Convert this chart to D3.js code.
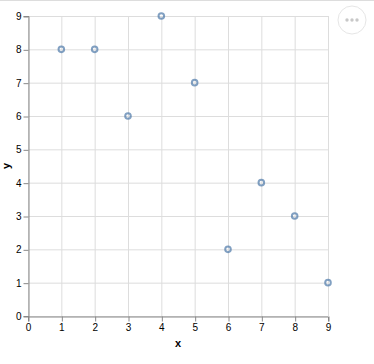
<!DOCTYPE html>
<html>
<head>
<meta charset="utf-8">
<script src="https://cdn.jsdelivr.net/npm/d3@7"></script>
<style>
  body { margin: 0; background: #fff; font-family: "Liberation Sans", Arial, sans-serif; }
</style>
</head>
<body>
<div id="chart"></div>
<script>
var xValues = [1, 2, 3, 4, 5, 6, 7, 8, 9];
var yValues = [8, 8, 6, 9, 7, 2, 4, 3, 1];
var xTicks = [0, 1, 2, 3, 4, 5, 6, 7, 8, 9];
var yTicks = [0, 1, 2, 3, 4, 5, 6, 7, 8, 9];

var width = 374,
    height = 364;
var margin = {left: 28, top: 16}; // plot origin
var plotW = 300, plotH = 300;

var svg = d3.select("#chart").append("svg")
    .attr("width", width)
    .attr("height", height);

// container border line at top
svg.append("line")
    .attr("x1", 0).attr("x2", width)
    .attr("y1", 0.5).attr("y2", 0.5)
    .attr("stroke", "#ddd");

var g = svg.append("g")
    .attr("transform", "translate(" + margin.left + "," + margin.top + ")");

var x = d3.scaleLinear().domain([0, 9]).range([0, plotW]);
var y = d3.scaleLinear().domain([0, 9]).range([plotH, 0]);

// grid
g.append("g").selectAll("line").data(xTicks).enter().append("line")
    .attr("x1", function (d) { return x(d) + 0.5; })
    .attr("x2", function (d) { return x(d) + 0.5; })
    .attr("y1", 0).attr("y2", plotH)
    .attr("stroke", "#ddd");
g.append("g").selectAll("line").data(yTicks).enter().append("line")
    .attr("y1", function (d) { return y(d) + 0.5; })
    .attr("y2", function (d) { return y(d) + 0.5; })
    .attr("x1", 0).attr("x2", plotW)
    .attr("stroke", "#ddd");

// axes
var xAxis = g.append("g")
    .attr("transform", "translate(0," + (plotH + 0.5) + ")")
    .call(d3.axisBottom(x).tickValues(xTicks).tickSize(5).tickPadding(2).tickFormat(d3.format("d")));
var yAxis = g.append("g")
    .attr("transform", "translate(0.5,0)")
    .call(d3.axisLeft(y).tickValues(yTicks).tickSize(5).tickPadding(2).tickFormat(d3.format("d")));

[xAxis, yAxis].forEach(function (a) {
    a.select(".domain").attr("stroke", "#888");
    a.selectAll(".tick line").attr("stroke", "#888");
    a.selectAll(".tick text")
        .attr("fill", "#000")
        .style("font-family", "'Liberation Sans', Arial, sans-serif")
        .style("font-size", "10px");
});
yAxis.selectAll(".tick line").attr("transform", "translate(0,0.5)");
yAxis.selectAll(".tick text").attr("dy", "0.35em");
xAxis.selectAll(".tick line").attr("transform", "translate(0.5,0)");

// titles
g.append("text")
    .attr("x", plotW / 2).attr("y", plotH + 31)
    .attr("text-anchor", "middle")
    .style("font-size", "11px").style("font-weight", "bold")
    .text("x");
g.append("text")
    .attr("transform", "translate(-18," + (plotH / 2) + ") rotate(-90)")
    .attr("text-anchor", "middle")
    .style("font-size", "11px").style("font-weight", "bold")
    .text("y");

// points
g.append("g").selectAll("circle").data(xValues).enter().append("circle")
    .attr("cx", function (d) { return x(d); })
    .attr("cy", function (d, i) { return y(yValues[i]); })
    .attr("r", 2.8)
    .attr("fill", "none")
    .attr("stroke", "#4c78a8")
    .attr("stroke-width", 2)
    .attr("opacity", 0.7);

// actions button
var btn = svg.append("g").attr("transform", "translate(352,20)");
btn.append("circle").attr("r", 14).attr("fill", "#fff").attr("stroke", "#e6e6e6");
btn.selectAll("circle.dot").data([-5, 0, 5]).enter().append("circle")
    .attr("class", "dot")
    .attr("cx", function (d) { return d; })
    .attr("r", 1.7)
    .attr("fill", "#c8c8c8");
</script>
</body>
</html>
